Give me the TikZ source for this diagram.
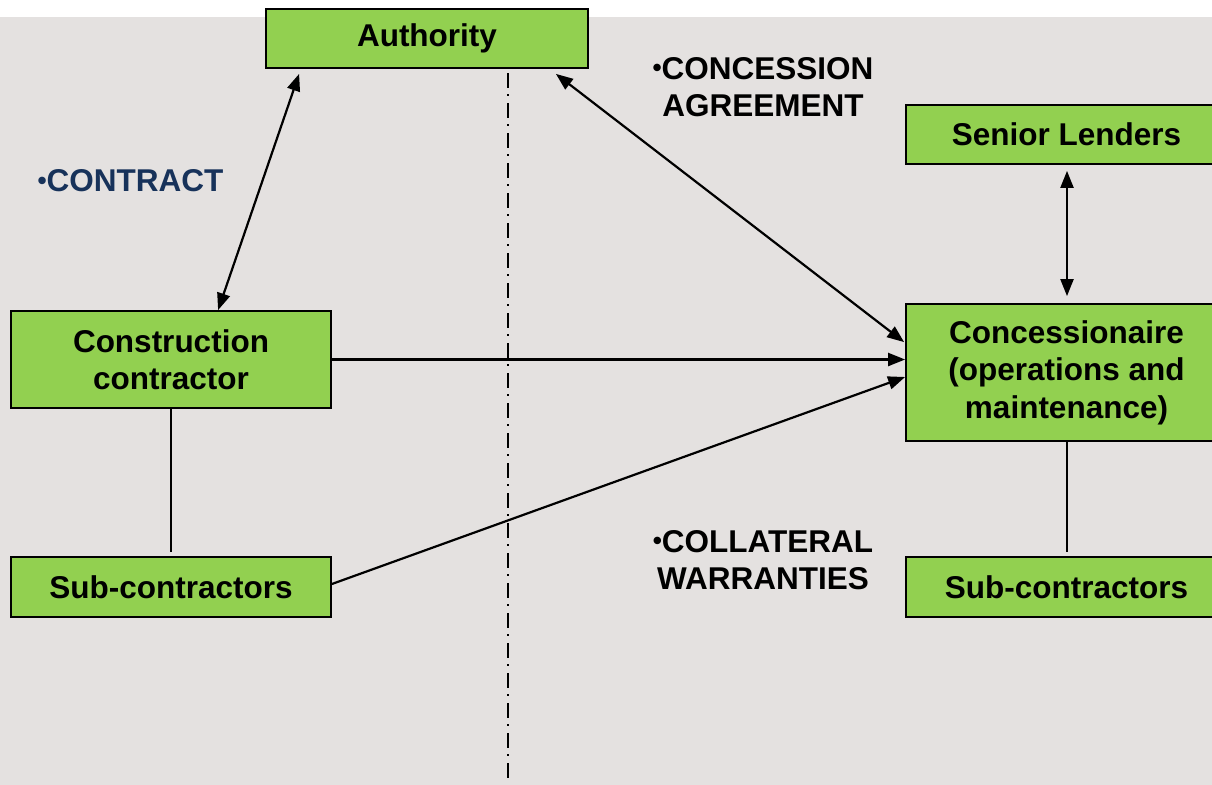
\documentclass[tikz,border=0pt]{standalone}
\usepackage{fontspec}
\setmainfont{Liberation Sans}
\usetikzlibrary{arrows.meta,calc}
\definecolor{bggray}{HTML}{E4E1E0}
\definecolor{boxgreen}{HTML}{92D050}
\definecolor{navy}{HTML}{17325A}
\newcommand{\bul}{\raisebox{2.5pt}{\fontsize{26}{26}\selectfont •}}
\tikzset{
  box/.style={draw=black, line width=1.8pt, fill=boxgreen, inner sep=0pt,
    align=center, font=\bfseries\fontsize{31.5}{37.5}\selectfont},
  lbl/.style={inner sep=0pt, align=center, font=\bfseries\fontsize{31.5}{37.5}\selectfont},
  link/.style={line width=2.2pt, draw=black},
  dbl/.style={link, {Triangle[length=17pt,width=13pt]}-{Triangle[length=17pt,width=13pt]}},
  one/.style={link, -{Triangle[length=17pt,width=13pt]}},
  divider/.style={line width=2pt, dash pattern=on 15pt off 6pt on 2pt off 7pt}
}
\begin{document}
\begin{tikzpicture}[x=1pt,y=-1pt]
\clip (0,0) rectangle (1212,784);
\fill[white] (0,0) rectangle (1212,784);
\fill[bggray] (0,17) rectangle (1212,785);

% divider
\coordinate (dtop) at (507.5,73);
\coordinate (dbot) at (507.5,779);
\draw[divider] (dtop) -- (dbot);

% boxes
\node[box, minimum width=322pt, minimum height=59pt] (auth) at (427,38.5) {Authority};
\node[box, minimum width=321pt, minimum height=59pt] (senior) at (1066.5,134.5) {Senior Lenders};
\node[box, minimum width=321pt, minimum height=137pt] (conc) at (1066.5,372.5) {Concessionaire\\(operations and\\maintenance)};
\node[box, minimum width=321pt, minimum height=60pt] (subR) at (1066.5,587) {Sub-contractors};
\node[box, minimum width=320pt, minimum height=97pt] (cons) at (171,359.5) {Construction\\contractor};
\node[box, minimum width=320pt, minimum height=60pt] (subL) at (171,587) {Sub-contractors};

% labels
\node[lbl, text=navy] (contract) at (130.5,181) {\bul CONTRACT};
\node[lbl] (concag) at (763,87) {\bul CONCESSION\\AGREEMENT};
\node[lbl] (collat) at (763,560) {\bul COLLATERAL\\WARRANTIES};

% connectors
\draw[dbl] ($(auth.south west)+(34,5)$) -- ($(cons.north west)+(208,0)$);
\draw[dbl] ($(auth.south east)+(-33,5)$) -- ($(conc.north west)+(-1,39)$);
\draw[dbl] ($(senior.south)+(0.5,6)$) -- ($(conc.north)+(0.5,-7)$);
\draw[one] (cons.east) -- (cons.east -| conc.west);
\draw[one] ($(subL.east)+(0,-3)$) -- ($(conc.west)+(0,4.5)$);
\draw[link] (cons.south) -- ($(subL.north)+(0,-4)$);
\draw[link] ($(conc.south)+(0.5,0)$) -- ($(subR.north)+(0.5,-4)$);
\end{tikzpicture}
\end{document}
